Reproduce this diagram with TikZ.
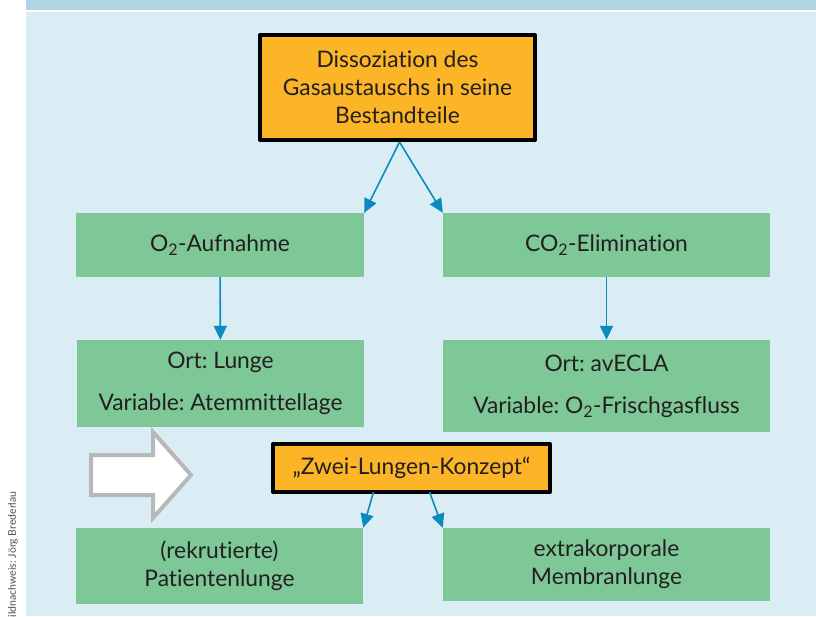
\documentclass[tikz,border=0pt]{standalone}
\usepackage{fontspec}
\setmainfont{Lato}[Ligatures=NoCommon]
\usetikzlibrary{arrows.meta}
\frenchspacing
\definecolor{kasten}{HTML}{FBB527}
\definecolor{gruen}{HTML}{7DC896}
\definecolor{hinter}{HTML}{DBEDF4}
\definecolor{band}{HTML}{B3D4E4}
\definecolor{pfeilblau}{HTML}{0A8BC0}
\definecolor{grau}{HTML}{B6B8BA}
\definecolor{schrift}{HTML}{231F20}
\begin{document}
\begin{tikzpicture}[x=1pt, y=-1pt, font=\fontsize{22.8}{28}\selectfont, text=schrift,
		line join=round, >={Triangle[length=14pt,width=13pt]},
		gbox/.style={fill=gruen, inner sep=0pt, align=center},
		obox/.style={draw=black, line width=4pt, fill=kasten, inner sep=0pt, align=center},
		pfeil/.style={->, draw=pfeilblau, line width=1.6pt}]
		\useasboundingbox (0,0) rectangle (816,616);
		% Hintergrund
		\fill[white] (0,0) rectangle (816,616);
		\fill[band] (26,0) rectangle (816,10);
		\fill[hinter] (26,12) rectangle (816,616);
		% Kaesten
		\node[obox, minimum width=275, minimum height=105] (diss) at (397.5,87.5)
		{Dissoziation des\\Gasaustauschs in seine\\Bestandteile};
		\node[gbox, minimum width=288, minimum height=64] (aufn) at (220,245) {O\textsubscript{2}-Aufnahme};
		\node[gbox, minimum width=327, minimum height=64] (elim) at (606.5,245) {CO\textsubscript{2}-Elimination};
		\node[gbox, minimum width=287, minimum height=87] (lunge) at (220.5,383.5)
		{Ort: Lunge\\[14pt]Variable: Atemmittellage};
		\node[gbox, minimum width=327, minimum height=92] (ecla) at (606.5,386)
		{Ort: avECLA\\[14pt]Variable: O\textsubscript{2}-Frischgasfluss};
		\node[obox, minimum width=277, minimum height=48] (zwei) at (411.5,468) {„Zwei-Lungen-Konzept“};
		\node[gbox, minimum width=287, minimum height=76] (pat) at (219.5,566) {(rekrutierte)\\Patientenlunge};
		\node[gbox, minimum width=327, minimum height=73] (memb) at (606.5,564.5) {extrakorporale\\Membranlunge};
		% Pfeile
		\draw[pfeil] ([xshift=2pt]diss.south) -- (aufn.north east);
		\draw[pfeil] ([xshift=2pt]diss.south) -- (elim.north west);
		\draw[pfeil] (aufn) -- (lunge);
		\draw[pfeil] (elim) -- (ecla);
		\draw[pfeil] ([xshift=-38pt,yshift=2pt]zwei.south) -- (pat.north east);
		\draw[pfeil] ([xshift=18pt,yshift=2pt]zwei.south) -- (memb.north west);
		% Blockpfeil
		\draw[grau, line width=4pt, fill=white, line join=miter]
		(91,455) -- (153,455) -- (153,432) -- (191,475) -- (153,518) -- (153,495) -- (91,495) -- cycle;
		% Bildnachweis
		\node[rotate=90, anchor=south west, inner sep=0pt, font=\fontsize{10.5}{12}\selectfont, text=schrift!80]
		(nachw) at (18,624) {Bildnachweis: Jörg Brederlau};
	\end{tikzpicture}
\end{document}
